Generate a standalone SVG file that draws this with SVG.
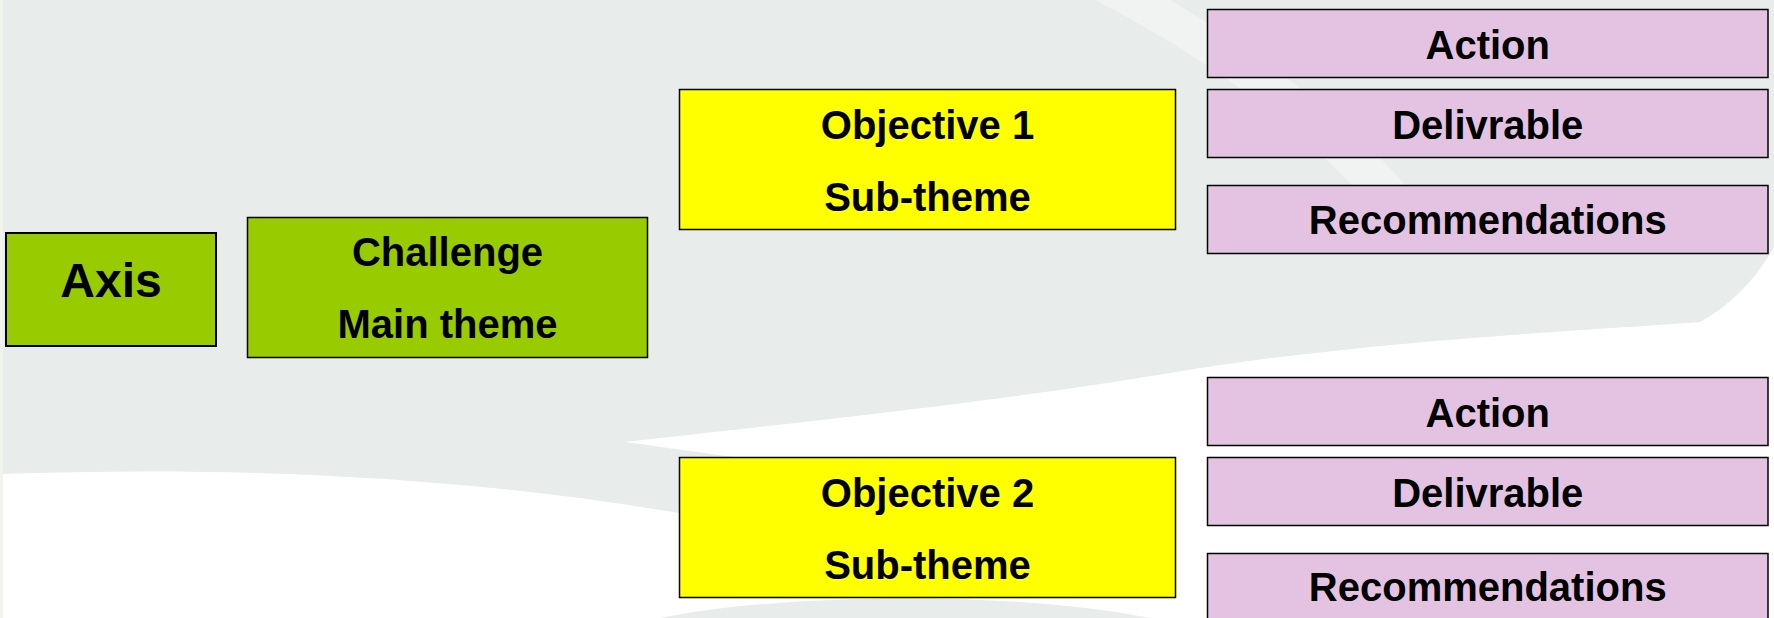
<svg xmlns="http://www.w3.org/2000/svg" width="1774" height="618" viewBox="0 0 1774 618">
<style>
.box{stroke:#000;stroke-width:1.5}
.green{fill:#99CC00}
.yellow{fill:#FFFF00}
.pink{fill:#E4C3E2}
.t{font-family:"Liberation Sans",Arial,sans-serif;font-weight:bold;fill:#000;text-anchor:middle}
.t40{font-size:40px}
.t48{font-size:48px}
</style>
<g id="background">
<rect x="0" y="0" width="1774" height="618" fill="#E8ECEB"/>
<path d="M0,474 C300,464 540,484 760,528 L760,618 L0,618 Z" fill="#FFFFFF"/>
<path d="M625,442 C820,420 1000,402 1200,368 C1400,338 1600,330 1700,322 C1740,300 1760,270 1774,248 L1774,618 L760,618 L760,528 C780,500 800,478 820,466 C760,462 700,452 625,442 Z" fill="#FFFFFF"/>
<path d="M660,618 C760,596 1000,588 1150,618 Z" fill="#E8ECEB"/>
<path d="M1095,0 L1170,0 C1270,60 1380,140 1440,230 L1400,240 C1330,150 1230,70 1095,0 Z" fill="#FFFFFF" opacity="0.4"/>
<rect x="0" y="0" width="3" height="618" fill="#F3F3EE"/>
</g>
<g id="connectors"></g>
<g id="axis">
<rect class="box green" x="6" y="233" width="210" height="113" style="stroke-width:2"/>
<text class="t t48" x="111" y="297">Axis</text>
</g>
<g id="challenge">
<rect class="box green" x="247.5" y="217.5" width="400" height="140"/>
<text class="t t40" x="447.5" y="266">Challenge</text>
<text class="t t40" x="447.5" y="338">Main theme</text>
</g>
<g id="objective1">
<rect class="box yellow" x="679.5" y="89.5" width="496" height="140"/>
<text class="t t40" x="927.5" y="138.5">Objective 1</text>
<text class="t t40" x="927.5" y="211">Sub-theme</text>
</g>
<g id="objective2">
<rect class="box yellow" x="679.5" y="457.5" width="496" height="140"/>
<text class="t t40" x="927.5" y="506.5">Objective 2</text>
<text class="t t40" x="927.5" y="578.5">Sub-theme</text>
</g>
<g id="action1">
<rect class="box pink" x="1207.5" y="9.5" width="560.5" height="68"/>
<text class="t t40" x="1487.75" y="58.5">Action</text>
</g>
<g id="delivrable1">
<rect class="box pink" x="1207.5" y="89.5" width="560.5" height="68"/>
<text class="t t40" x="1487.75" y="138.5">Delivrable</text>
</g>
<g id="recommendations1">
<rect class="box pink" x="1207.5" y="185.5" width="560.5" height="68"/>
<text class="t t40" x="1487.75" y="233.5">Recommendations</text>
</g>
<g id="action2">
<rect class="box pink" x="1207.5" y="377.5" width="560.5" height="68"/>
<text class="t t40" x="1487.75" y="426.5">Action</text>
</g>
<g id="delivrable2">
<rect class="box pink" x="1207.5" y="457.5" width="560.5" height="68"/>
<text class="t t40" x="1487.75" y="506.5">Delivrable</text>
</g>
<g id="recommendations2">
<rect class="box pink" x="1207.5" y="553.5" width="560.5" height="80"/>
<text class="t t40" x="1487.75" y="601">Recommendations</text>
</g>
</svg>
